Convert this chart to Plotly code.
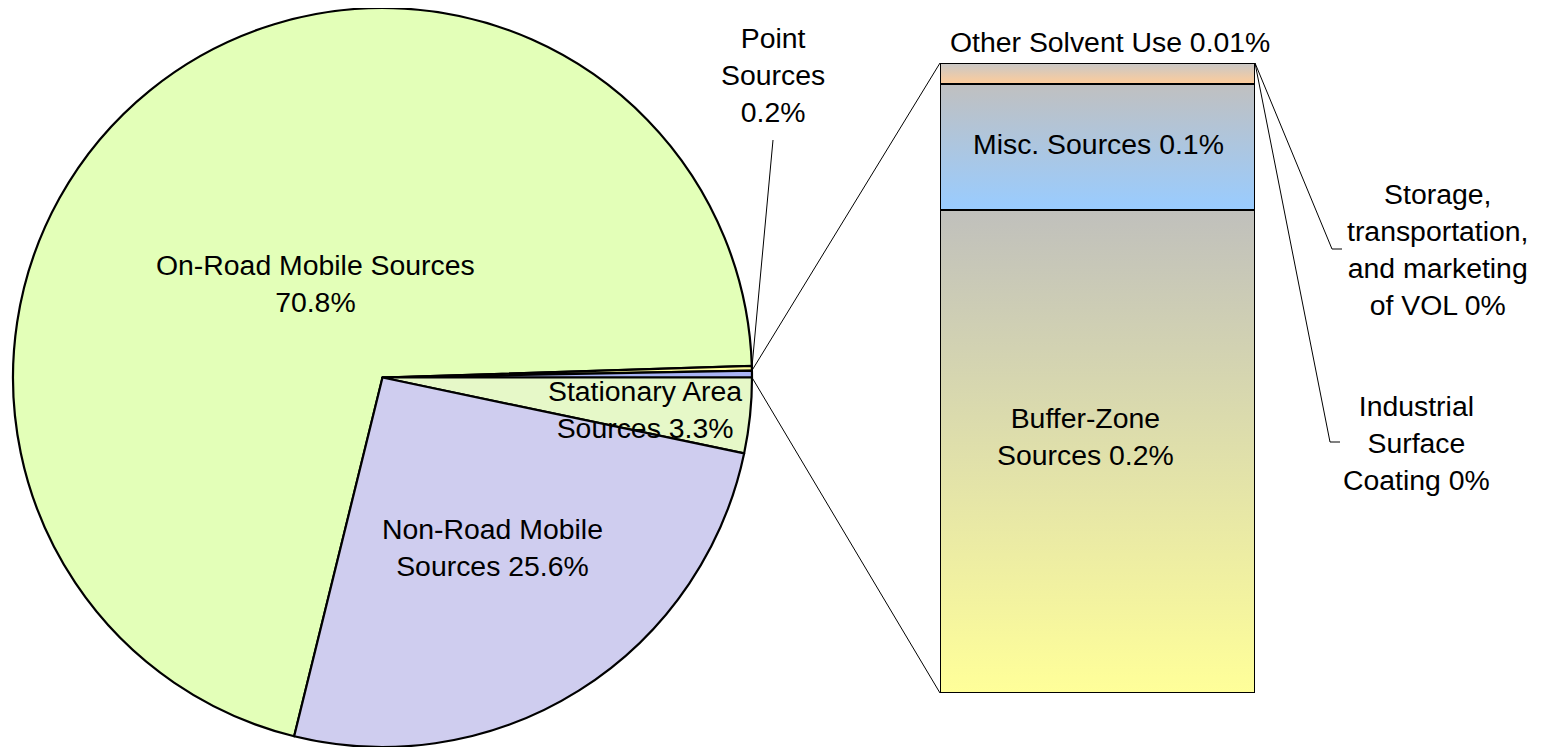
import math
import plotly.graph_objects as go

# page body has an 8px margin; figure is sized to fill the rest of the window
OFF = 8
FW, FH = 1541 - OFF, 747 - OFF

# ---------------- data ----------------
pie_labels = ["On-Road Mobile Sources", "Point Sources", "Other",
              "Stationary Area Sources", "Non-Road Mobile Sources"]
pie_main_values = [70.8, 0.2, None, 3.3, 25.6]   # "Other" = sum of bar items
pie_pct_text = ["70.8%", "0.2%", "", "3.3%", "25.6%"]
pie_colors = ["#e3ffb8", "#ffff9c", "#a9b4f5", "#e6f8c8", "#cfcdef"]

bar_labels = ["Buffer-Zone Sources", "Misc. Sources", "Other Solvent Use",
              "Storage, transportation, and marketing of VOL",
              "Industrial Surface Coating"]
bar_values = [0.23, 0.06, 0.01, 0.0, 0.0]
bar_pct_text = ["0.2%", "0.1%", "0.01%", "0%", "0%"]
bar_colors = ["#e2dfa6", "#aec6e2", "#e2c9b0", "#cccccc", "#cccccc"]
bar_grad_top = ["#c0c0bc", "#c0c0c0", "#c8c8c8", "#cccccc", "#cccccc"]
bar_grad_bottom = ["#ffff99", "#99ccff", "#ffcc99", "#cccccc", "#cccccc"]

other_total = sum(bar_values)
pie_values = [v if v is not None else other_total for v in pie_main_values]
pie_total = sum(pie_values)

# ---------------- layout geometry (reference pixel coords) ----------------
FONT = "Liberation Sans, Arial, sans-serif"
FS = 28.4


def px(x):
    return (x - OFF) / FW


def py(y):
    return 1 - (y - OFF) / FH


PIE_L, PIE_R = 13, 752
PIE_T, PIE_B = OFF, 747
pie_dom_x = [px(PIE_L), px(PIE_R)]
pie_dom_y = [0, 1]
bar_dom_x = [px(940), px(1255)]
bar_dom_y = [py(693), py(63)]

idx_other = pie_labels.index("Other")
before_end = sum(pie_values[: idx_other + 1])
rotation = 90 - 360 * before_end / pie_total

cx_px = (PIE_L + PIE_R) / 2
cy_px = (PIE_T + PIE_B) / 2
r_px = min(PIE_R - PIE_L, PIE_B - PIE_T) / 2


def pie_edge(angle_deg):
    a = math.radians(angle_deg)
    return cx_px + r_px * math.sin(a), cy_px - r_px * math.cos(a)


def slice_angles(i):
    start = rotation + 360 * sum(pie_values[:i]) / pie_total
    end = rotation + 360 * sum(pie_values[: i + 1]) / pie_total
    return start, end


fig = go.Figure()

fig.add_trace(go.Pie(
    labels=pie_labels, values=pie_values, sort=False,
    direction="clockwise", rotation=rotation,
    marker=dict(colors=pie_colors, line=dict(color="black", width=2.2)),
    textinfo="none", hoverinfo="label+percent",
    domain=dict(x=pie_dom_x, y=pie_dom_y), showlegend=False,
))

# stacked bar of the "Other" breakdown
for lab, val, col in zip(bar_labels, bar_values, bar_colors):
    fig.add_trace(go.Bar(
        x=[0], y=[val], name=lab, width=1,
        marker=dict(color=col, line=dict(color="black", width=2)),
        xaxis="x", yaxis="y", showlegend=False,
    ))

# gradient shading of each stacked segment (same stacked values)
base = 0.0
for lab, val, ct, cb in zip(bar_labels, bar_values, bar_grad_top, bar_grad_bottom):
    if val > 0:
        top = base + val
        fig.add_trace(go.Scatter(
            x=[-0.5, 0.5, 0.5, -0.5, -0.5], y=[base, base, top, top, base],
            mode="lines", fill="toself", name=lab,
            fillgradient=dict(type="vertical", start=base, stop=top,
                              colorscale=[[0, cb], [1, ct]]),
            line=dict(color="black", width=2),
            xaxis="x", yaxis="y", showlegend=False, hoverinfo="name",
        ))
    base += val

shapes = []


def line_px(x0, y0, x1, y1, w=1):
    shapes.append(dict(type="line", xref="paper", yref="paper",
                       x0=px(x0), y0=py(y0), x1=px(x1), y1=py(y1),
                       line=dict(color="black", width=w)))


o_start, o_end = slice_angles(idx_other)
ex0, ey0 = pie_edge(o_start)
ex1, ey1 = pie_edge(o_end)
bar_top_px = 63
bar_bot_px = 693
line_px(ex0, ey0, 940, bar_top_px)
line_px(ex1, ey1, 940, bar_bot_px)

p_start, p_end = slice_angles(pie_labels.index("Point Sources"))
lx, ly = pie_edge((p_start + p_end) / 2)
line_px(lx, ly, 773, 140)

line_px(1255, bar_top_px, 1332, 249)
line_px(1332, 249, 1342, 249)
line_px(1255, bar_top_px, 1330, 442)
line_px(1330, 442, 1340, 442)

annotations = []


def label(x, y, text):
    annotations.append(dict(xref="paper", yref="paper", x=px(x), y=py(y),
                            text=text, showarrow=False, xanchor="center",
                            yanchor="middle", align="center",
                            font=dict(family=FONT, size=FS, color="black")))


label(315, 283, f"{pie_labels[0]}<br>{pie_pct_text[0]}")
label(492, 547, f"Non-Road Mobile<br>Sources {pie_pct_text[4]}")
label(645, 410, f"Stationary Area<br>Sources {pie_pct_text[3]}")
label(773, 75, f"Point<br>Sources<br>{pie_pct_text[1]}")
label(1110, 42, f"{bar_labels[2]} {bar_pct_text[2]}")
label(1098, 144, f"{bar_labels[1]} {bar_pct_text[1]}")
label(1085, 437, f"Buffer-Zone<br>Sources {bar_pct_text[0]}")
label(1438, 250, f"Storage,<br>transportation,<br>and marketing<br>of VOL {bar_pct_text[3]}")
label(1416, 443, f"Industrial<br>Surface<br>Coating {bar_pct_text[4]}")

fig.update_layout(
    width=FW, height=FH,
    margin=dict(l=0, r=0, t=0, b=0),
    paper_bgcolor="white", plot_bgcolor="rgba(0,0,0,0)",
    barmode="stack", bargap=0,
    xaxis=dict(domain=bar_dom_x, range=[-0.5, 0.5], visible=False, fixedrange=True),
    yaxis=dict(domain=bar_dom_y, range=[0, other_total], visible=False, fixedrange=True),
    shapes=shapes, annotations=annotations,
    font=dict(family=FONT, size=FS),
)

fig.write_html("out.html")
